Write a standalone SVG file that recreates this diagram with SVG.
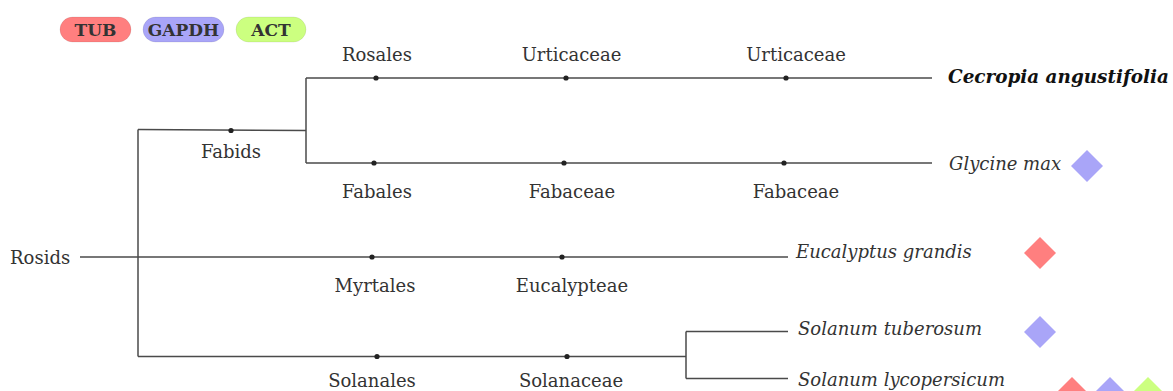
<svg xmlns="http://www.w3.org/2000/svg" width="1173" height="391" viewBox="0 0 1173 391">
<style>
.lbl{font-family:"DejaVu Serif","Liberation Serif",serif;font-size:18px;fill:#333;}
.mid{text-anchor:middle;}
.sp{font-family:"DejaVu Serif","Liberation Serif",serif;font-size:18px;font-style:italic;fill:#333;}
.spb{font-weight:bold;fill:#111;}
.leg{font-family:"DejaVu Serif","Liberation Serif",serif;font-size:17px;font-weight:bold;fill:#333;text-anchor:middle;}
.ln{stroke:#4a4a4a;stroke-width:1.5;fill:none;}
.dot{fill:#222;}
.pill{stroke:#000;stroke-opacity:0.08;stroke-width:1;}
.red{fill:#ff7f7f;}
.lav{fill:#a9a5f8;}
.grn{fill:#ccff80;}
</style>
<defs>
<polygon id="dia" points="0,-16 16,0 0,16 -16,0"/>
</defs>
<rect width="1173" height="391" fill="#fff"/>

<g id="legend">
<g id="legend-tub"><rect class="pill red" x="60" y="17" width="71" height="25" rx="12.5"/><text class="leg" x="95.5" y="36">TUB</text></g>
<g id="legend-gapdh"><rect class="pill lav" x="143" y="17" width="81" height="25" rx="12.5"/><text class="leg" x="183.5" y="36">GAPDH</text></g>
<g id="legend-act"><rect class="pill grn" x="236" y="17" width="70" height="25" rx="12.5"/><text class="leg" x="271" y="36">ACT</text></g>
</g>

<g id="connectors">
<line class="ln" x1="80" y1="257" x2="788" y2="257"/>
<line class="ln" x1="138" y1="129.5" x2="138" y2="356.5"/>
<line class="ln" x1="138" y1="129.5" x2="306" y2="130.5"/>
<line class="ln" x1="306" y1="78" x2="306" y2="163"/>
<line class="ln" x1="306" y1="78" x2="932" y2="78"/>
<line class="ln" x1="306" y1="163" x2="932" y2="163"/>
<line class="ln" x1="138" y1="356.5" x2="686" y2="356.5"/>
<line class="ln" x1="686" y1="331.5" x2="686" y2="378.5"/>
<line class="ln" x1="686" y1="331.5" x2="788" y2="331.5"/>
<line class="ln" x1="686" y1="378.5" x2="788" y2="378.5"/>
</g>

<g id="node-rosids"><text class="lbl" x="10" y="264">Rosids</text></g>
<g id="node-fabids"><circle class="dot" cx="231" cy="130.5" r="2.6"/><text class="lbl mid" x="231" y="158">Fabids</text></g>

<g id="node-rosales"><circle class="dot" cx="376" cy="78" r="2.6"/><text class="lbl mid" x="377" y="61">Rosales</text></g>
<g id="node-urticaceae1"><circle class="dot" cx="566" cy="78" r="2.6"/><text class="lbl mid" x="571.5" y="61">Urticaceae</text></g>
<g id="node-urticaceae2"><circle class="dot" cx="786" cy="78" r="2.6"/><text class="lbl mid" x="796" y="61">Urticaceae</text></g>
<g id="node-cecropia"><text class="sp spb" x="948" y="83" textLength="221" lengthAdjust="spacingAndGlyphs">Cecropia angustifolia</text></g>

<g id="node-fabales"><circle class="dot" cx="374" cy="163" r="2.6"/><text class="lbl mid" x="377" y="198">Fabales</text></g>
<g id="node-fabaceae1"><circle class="dot" cx="564" cy="163" r="2.6"/><text class="lbl mid" x="572" y="198">Fabaceae</text></g>
<g id="node-fabaceae2"><circle class="dot" cx="784" cy="163" r="2.6"/><text class="lbl mid" x="796" y="198">Fabaceae</text></g>
<g id="node-glycine"><text class="sp" x="949" y="170">Glycine max</text><use href="#dia" class="lav" x="1087" y="166"/></g>

<g id="node-myrtales"><circle class="dot" cx="372" cy="257" r="2.6"/><text class="lbl mid" x="375" y="292">Myrtales</text></g>
<g id="node-eucalypteae"><circle class="dot" cx="562" cy="257" r="2.6"/><text class="lbl mid" x="572" y="292">Eucalypteae</text></g>
<g id="node-eucalyptus"><text class="sp" x="796" y="258">Eucalyptus grandis</text><use href="#dia" class="red" x="1040" y="253"/></g>

<g id="node-solanales"><circle class="dot" cx="377" cy="356.5" r="2.6"/><text class="lbl mid" x="372" y="387">Solanales</text></g>
<g id="node-solanaceae"><circle class="dot" cx="567" cy="356.5" r="2.6"/><text class="lbl mid" x="571" y="387">Solanaceae</text></g>
<g id="node-tuberosum"><text class="sp" x="798" y="335">Solanum tuberosum</text><use href="#dia" class="lav" x="1040" y="332"/></g>
<g id="node-lycopersicum"><text class="sp" x="798" y="386">Solanum lycopersicum</text><use href="#dia" class="red" x="1072" y="393"/><use href="#dia" class="lav" x="1110" y="393"/><use href="#dia" class="grn" x="1148" y="393"/></g>
</svg>
